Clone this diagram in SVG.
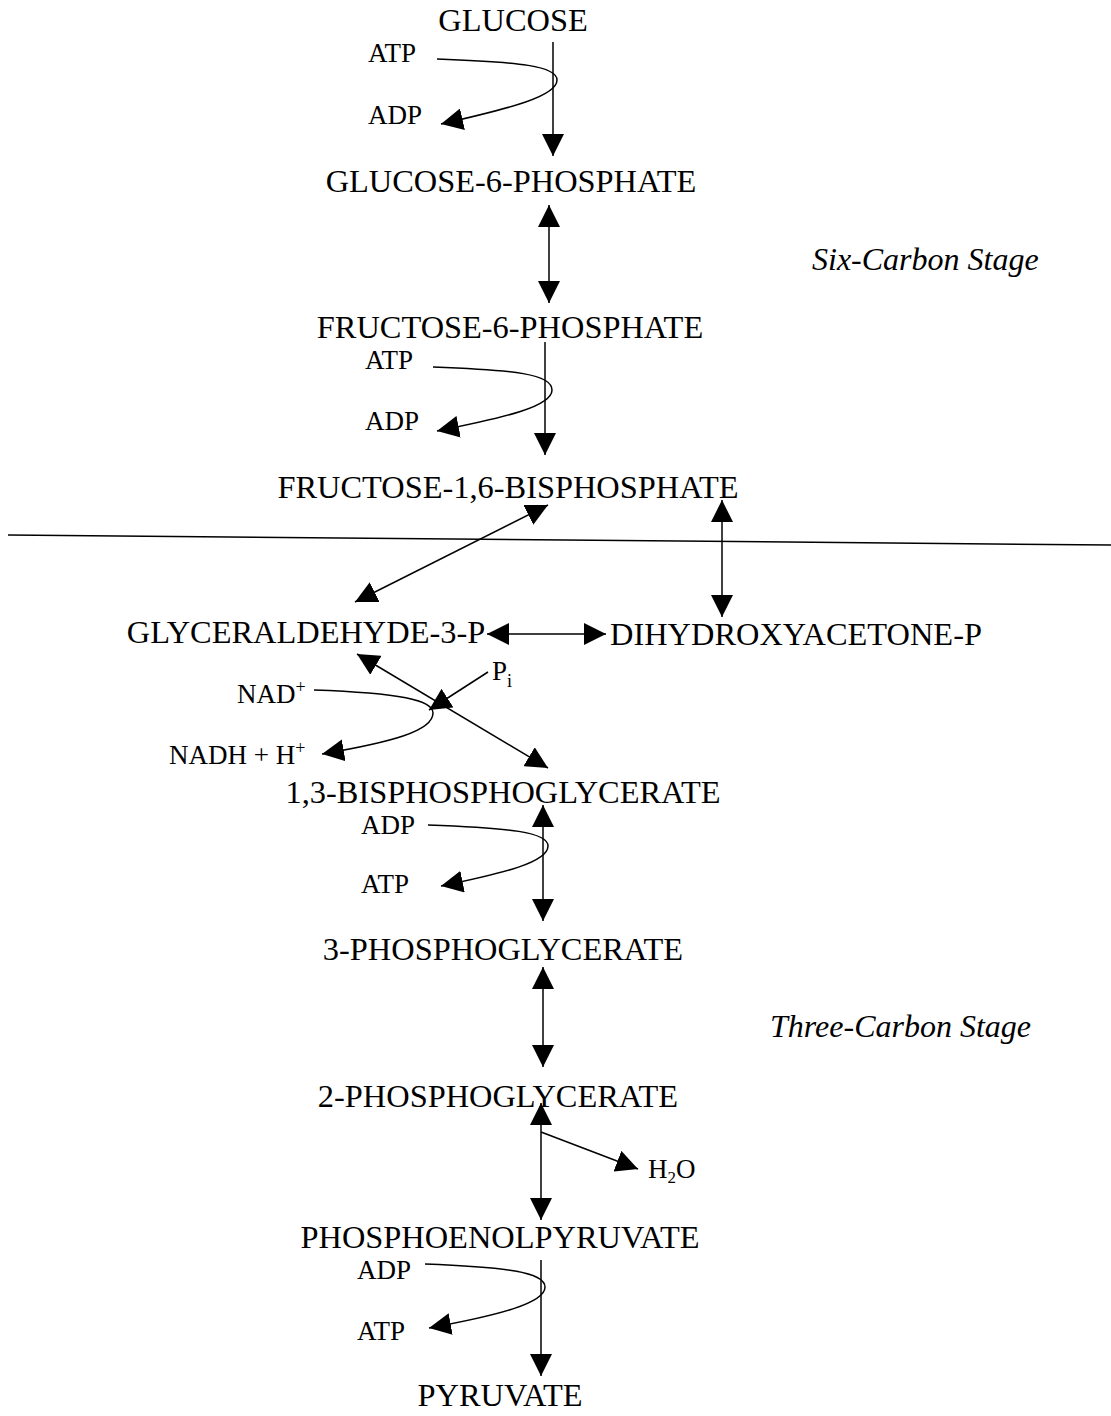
<svg xmlns="http://www.w3.org/2000/svg" width="1111" height="1416" viewBox="0 0 1111 1416">
  <style>
    .main { font-family: "Liberation Serif", "Times New Roman", serif; font-size: 32.4px; fill: #000; text-anchor: middle; }
    .small { font-family: "Liberation Serif", "Times New Roman", serif; font-size: 27px; fill: #000; }
    .stage { font-family: "Liberation Serif", "Times New Roman", serif; font-size: 32px; font-style: italic; fill: #000; }
    .ln { fill: none; stroke: #000; stroke-width: 1.5; }
  </style>
  <defs>
    <marker id="head" viewBox="0 0 22 22" markerWidth="22" markerHeight="22" markerUnits="userSpaceOnUse" refX="22" refY="11" orient="auto-start-reverse">
      <path d="M0,0 L22,11 L0,22 Z" fill="#000"/>
    </marker>
  </defs>
  <rect width="1111" height="1416" fill="#fff"/>

  <!-- metabolites -->
  <g id="glucose"><text class="main" x="513" y="31">GLUCOSE</text></g>
  <g id="g6p"><text class="main" x="511" y="192">GLUCOSE-6-PHOSPHATE</text></g>
  <g id="f6p"><text class="main" x="510" y="338">FRUCTOSE-6-PHOSPHATE</text></g>
  <g id="f16bp"><text class="main" x="508" y="498">FRUCTOSE-1,6-BISPHOSPHATE</text></g>
  <g id="gap"><text class="main" x="306" y="643">GLYCERALDEHYDE-3-P</text></g>
  <g id="dhap"><text class="main" x="796" y="645">DIHYDROXYACETONE-P</text></g>
  <g id="bpg13"><text class="main" x="503" y="803">1,3-BISPHOSPHOGLYCERATE</text></g>
  <g id="pg3"><text class="main" x="503" y="960">3-PHOSPHOGLYCERATE</text></g>
  <g id="pg2"><text class="main" x="498" y="1107">2-PHOSPHOGLYCERATE</text></g>
  <g id="pep"><text class="main" x="500" y="1248">PHOSPHOENOLPYRUVATE</text></g>
  <g id="pyruvate"><text class="main" x="500" y="1406">PYRUVATE</text></g>

  <!-- cofactors -->
  <g id="cofactors">
    <text class="small" x="368" y="62">ATP</text>
    <text class="small" x="368" y="124">ADP</text>
    <text class="small" x="365" y="369">ATP</text>
    <text class="small" x="365" y="430">ADP</text>
    <text class="small" x="237" y="703">NAD<tspan dy="-10" font-size="18">+</tspan></text>
    <text class="small" x="169" y="764">NADH + H<tspan dy="-10" font-size="18">+</tspan></text>
    <text class="small" x="492" y="680">P<tspan dy="7" font-size="18">i</tspan></text>
    <text class="small" x="361" y="834">ADP</text>
    <text class="small" x="361" y="893">ATP</text>
    <text class="small" x="648" y="1178">H<tspan dy="5" font-size="17">2</tspan><tspan dy="-5">O</tspan></text>
    <text class="small" x="357" y="1279">ADP</text>
    <text class="small" x="357" y="1340">ATP</text>
  </g>

  <!-- stage labels -->
  <g id="stages">
    <text class="stage" x="812" y="270">Six-Carbon Stage</text>
    <text class="stage" x="770" y="1037">Three-Carbon Stage</text>
  </g>

  <!-- reaction arrows -->
  <g id="connectors">
    <!-- divider between six- and three-carbon stages -->
    <line class="ln" x1="8" y1="535" x2="1111" y2="545"/>

    <!-- hexokinase -->
    <line class="ln" x1="553" y1="42" x2="553" y2="156" marker-end="url(#head)"/>
    <path class="ln" d="M437,59 C520,62 557,66 557,80 C557,96 512,108 441,124" marker-end="url(#head)"/>

    <!-- isomerase -->
    <line class="ln" x1="549" y1="205" x2="549" y2="303" marker-start="url(#head)" marker-end="url(#head)"/>

    <!-- phosphofructokinase -->
    <line class="ln" x1="545" y1="342" x2="545" y2="455" marker-end="url(#head)"/>
    <path class="ln" d="M433,367 C515,370 552,374 552,390 C552,406 508,417 437,431" marker-end="url(#head)"/>

    <!-- aldolase -->
    <line class="ln" x1="548" y1="505" x2="355" y2="602" marker-start="url(#head)" marker-end="url(#head)"/>
    <line class="ln" x1="722" y1="500" x2="722" y2="617" marker-start="url(#head)" marker-end="url(#head)"/>

    <!-- triose phosphate isomerase -->
    <line class="ln" x1="487" y1="634" x2="606" y2="634" marker-start="url(#head)" marker-end="url(#head)"/>

    <!-- GAP dehydrogenase -->
    <line class="ln" x1="357" y1="654" x2="548" y2="768" marker-start="url(#head)" marker-end="url(#head)"/>
    <line class="ln" x1="488" y1="672" x2="429" y2="710" marker-end="url(#head)"/>
    <path class="ln" d="M314,690 C400,693 433,700 433,713 C433,731 392,742 322,754" marker-end="url(#head)"/>

    <!-- phosphoglycerate kinase -->
    <line class="ln" x1="543" y1="805" x2="543" y2="921" marker-start="url(#head)" marker-end="url(#head)"/>
    <path class="ln" d="M428,825 C510,828 548,832 548,846 C548,862 505,873 441,886" marker-end="url(#head)"/>

    <!-- phosphoglycerate mutase -->
    <line class="ln" x1="543" y1="967" x2="543" y2="1067" marker-start="url(#head)" marker-end="url(#head)"/>

    <!-- enolase -->
    <line class="ln" x1="541" y1="1103" x2="541" y2="1220" marker-start="url(#head)" marker-end="url(#head)"/>
    <line class="ln" x1="541" y1="1132" x2="638" y2="1169" marker-end="url(#head)"/>

    <!-- pyruvate kinase -->
    <line class="ln" x1="541" y1="1260" x2="541" y2="1376" marker-end="url(#head)"/>
    <path class="ln" d="M425,1264 C505,1267 545,1272 545,1287 C545,1303 500,1315 429,1328" marker-end="url(#head)"/>
  </g>
</svg>
